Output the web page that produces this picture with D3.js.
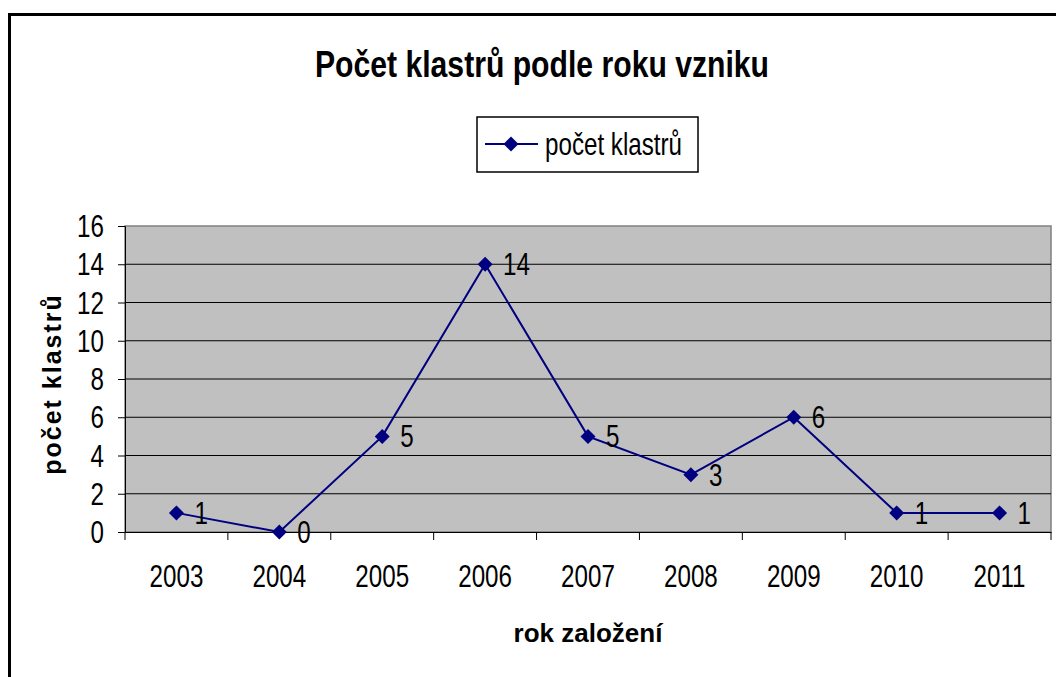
<!DOCTYPE html>
<html><head><meta charset="utf-8">
<script src="https://cdn.jsdelivr.net/npm/d3@7"></script>
<style>body{margin:0;background:#fff}svg{display:block}text{font-family:"Liberation Sans",Arial,sans-serif}</style>
</head><body><svg id="c" width="1056" height="677"></svg>
<script>
const categories = ["2003","2004","2005","2006","2007","2008","2009","2010","2011"];
const values = [1,0,5,14,5,3,6,1,1];
const yTicks = [0,2,4,6,8,10,12,14,16];
const seriesName = "počet klastrů";
const title = "Počet klastrů podle roku vzniku";
const xTitle = "rok založení";
const yTitle = "počet klastrů";

const svg = d3.select("#c");
const L=125, R=1051, T=226, B=532;
const K=0.78, FS=31;
svg.append("rect").attr("x",9.5).attr("y",14.5).attr("width",1100).attr("height",700).attr("fill","#fff").attr("stroke","#000").attr("stroke-width",3);

const x = d3.scaleBand().domain(categories).range([L,R]);
const y = d3.scaleLinear().domain([0,16]).range([B,T]);

function sText(g, px, py, str, anchor, size, k, weight){
  const t = g.append("g").attr("transform",`translate(${px},${py}) scale(${k},1)`);
  return t.append("text").attr("text-anchor",anchor).attr("font-size",size).attr("font-weight",weight||"normal").attr("fill","#000").text(str);
}

svg.append("rect").attr("x",L).attr("y",T).attr("width",R-L).attr("height",B-T).attr("fill","#C0C0C0").attr("stroke","#808080").attr("stroke-width",1.5);
svg.append("g").selectAll("line").data(yTicks.filter(d=>d>0&&d<16)).join("line")
  .attr("x1",L).attr("x2",R).attr("y1",d=>y(d)).attr("y2",d=>y(d)).attr("stroke","#000").attr("stroke-width",1);

const ya = svg.append("g").attr("transform",`translate(${L},0)`).call(d3.axisLeft(y).tickValues(yTicks).tickSize(7).tickFormat(""));
ya.select(".domain").attr("stroke","#000");
ya.selectAll("line").attr("stroke","#000");
const yl = svg.append("g");
yTicks.forEach(v=>sText(yl, 104, y(v)+11, String(v), "end", FS, K));

const xa = svg.append("g").attr("transform",`translate(0,${B})`).call(d3.axisBottom(x).tickSize(0).tickFormat(""));
xa.select(".domain").attr("stroke","#000");
const xl = svg.append("g");
categories.forEach(c=>sText(xl, x(c)+x.bandwidth()/2, 587, c, "middle", FS, K));
const bounds = categories.map(c=>x(c)).concat([R]);
svg.append("g").selectAll("line").data(bounds).join("line")
  .attr("x1",d=>d).attr("x2",d=>d).attr("y1",B).attr("y2",B+8).attr("stroke","#000");

const cx = (d,i)=>x(categories[i])+x.bandwidth()/2;
const line = d3.line().x(cx).y(d=>y(d));
svg.append("path").datum(values).attr("d",line).attr("fill","none").attr("stroke","#000080").attr("stroke-width",2);
const dia = "M0,-7.5L7.5,0L0,7.5L-7.5,0Z";
svg.append("g").selectAll("path").data(values).join("path")
  .attr("d",dia).attr("fill","#000080")
  .attr("transform",(d,i)=>`translate(${cx(d,i)},${y(d)})`);
const dl = svg.append("g");
values.forEach((v,i)=>sText(dl, cx(v,i)+18, y(v)+11, String(v), "start", FS, K));

sText(svg, 542, 77, title, "middle", 37, 0.815, "bold");
svg.append("text").attr("x",(L+R)/2).attr("y",642).attr("text-anchor","middle")
  .attr("font-size",26).attr("font-weight","bold").text(xTitle);
svg.append("text").attr("transform","translate(61,384) rotate(-90)").attr("text-anchor","middle")
  .attr("font-size",25).attr("font-weight","bold").attr("letter-spacing",2).text(yTitle);

const lg = svg.append("g");
lg.append("rect").attr("x",477).attr("y",117).attr("width",221).attr("height",55).attr("fill","#fff").attr("stroke","#000").attr("stroke-width",1.5);
lg.append("line").attr("x1",485).attr("x2",538).attr("y1",144).attr("y2",144).attr("stroke","#000080").attr("stroke-width",2);
lg.append("path").attr("d",dia).attr("fill","#000080").attr("transform","translate(511,144)");
sText(lg, 545, 155, seriesName, "start", FS, K);
</script></body></html>
